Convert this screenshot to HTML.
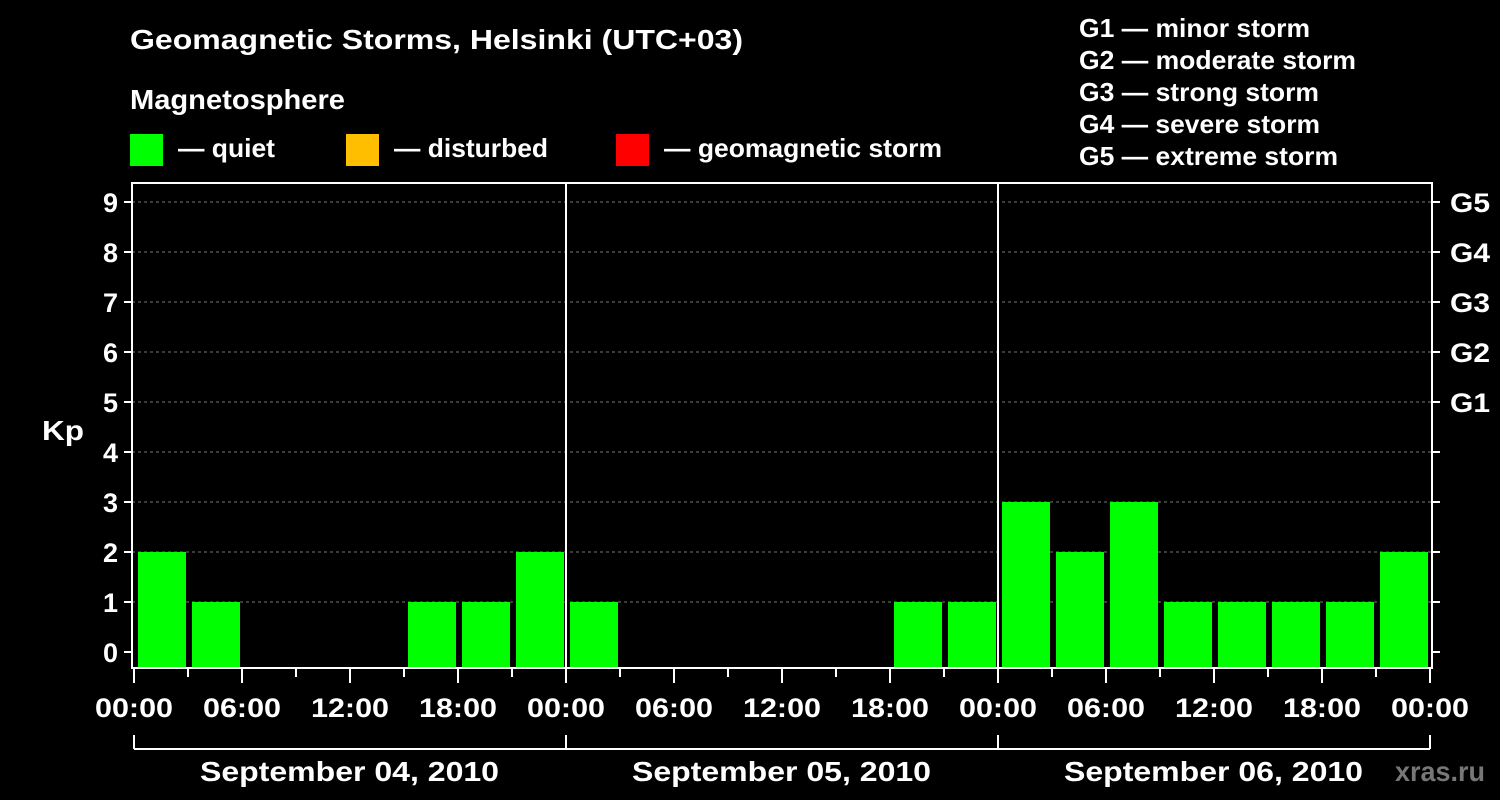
<!DOCTYPE html>
<html><head><meta charset="utf-8"><style>
body{margin:0;background:#000;}
svg{display:block;font-family:"Liberation Sans",sans-serif;font-weight:bold;fill:#fff;}
</style></head><body>
<svg id="c" width="1500" height="800">
<text x="130" y="49" font-size="28" textLength="613" lengthAdjust="spacingAndGlyphs">Geomagnetic Storms, Helsinki (UTC+03)</text>
<text x="130" y="109" font-size="28" textLength="215" lengthAdjust="spacingAndGlyphs">Magnetosphere</text>
<g><rect x="130" y="134" width="33" height="32" fill="#00ff00"/><text x="178" y="157" font-size="26" textLength="97" lengthAdjust="spacingAndGlyphs">— quiet</text></g>
<g><rect x="346" y="134" width="33" height="32" fill="#ffbf00"/><text x="394" y="157" font-size="26" textLength="154" lengthAdjust="spacingAndGlyphs">— disturbed</text></g>
<g><rect x="616" y="134" width="33" height="32" fill="#ff0000"/><text x="664" y="157" font-size="26" textLength="278" lengthAdjust="spacingAndGlyphs">— geomagnetic storm</text></g>
<g font-size="26">
<text x="1079" y="37" textLength="231" lengthAdjust="spacingAndGlyphs">G1 — minor storm</text>
<text x="1079" y="69" textLength="277" lengthAdjust="spacingAndGlyphs">G2 — moderate storm</text>
<text x="1079" y="101" textLength="240" lengthAdjust="spacingAndGlyphs">G3 — strong storm</text>
<text x="1079" y="133" textLength="241" lengthAdjust="spacingAndGlyphs">G4 — severe storm</text>
<text x="1079" y="165" textLength="259" lengthAdjust="spacingAndGlyphs">G5 — extreme storm</text>
</g>
<text x="42" y="440" font-size="28" textLength="42" lengthAdjust="spacingAndGlyphs">Kp</text>
<text x="1395" y="781" font-size="28" textLength="90" lengthAdjust="spacingAndGlyphs" style="fill:#777">xras.ru</text>
<g id="g"></g>
</svg>
<script>
const days=["September 04, 2010","September 05, 2010","September 06, 2010"];
const kp=[2,1,0,0,0,1,1,2, 1,0,0,0,0,0,1,1, 3,2,3,1,1,1,1,2];
const yTicks=[0,1,2,3,4,5,6,7,8,9];
const gLabels=["G1","G2","G3","G4","G5"];
const xLabels=["00:00","06:00","12:00","18:00"];
const NS="http://www.w3.org/2000/svg";
const g=document.getElementById('g');
const X0=134,DW=432,L=132,R=1432,T=183,B=668;
const x=h=>X0+h*DW/24;
const y=v=>652-50*v;
function el(t,a,p){const e=document.createElementNS(NS,t);for(const k in a)e.setAttribute(k,a[k]);(p||g).appendChild(e);return e;}
yTicks.forEach(v=>{
  if(v>0){const l=el('line',{x1:L,x2:R,y1:y(v),y2:y(v),stroke:'#777','stroke-dasharray':'3,3'});
  
  }
  el('line',{x1:L-8,x2:L,y1:y(v),y2:y(v),stroke:'#fff','stroke-width':2});
  el('line',{x1:R,x2:R+8,y1:y(v),y2:y(v),stroke:'#fff','stroke-width':2});
  const t=el('text',{x:L-14,y:y(v)+10,'font-size':27,'text-anchor':'end'});t.textContent=v;
  
  
});
gLabels.forEach((s,i)=>{const t=el('text',{x:1450,y:y(5+i)+10,'font-size':27,textLength:40,lengthAdjust:'spacingAndGlyphs'});t.textContent=s;
  
  });
kp.forEach((v,i)=>{
  if(v<=0)return;
  const r=el('rect',{x:x(i*3)+4,y:y(v),width:48,height:B-y(v),fill:'#00ff00'});
  
  
});
el('rect',{x:L,y:T,width:R-L,height:B-T,fill:'none',stroke:'#fff','stroke-width':2});
for(let d=1;d<days.length;d++)el('line',{x1:x(d*24),x2:x(d*24),y1:T,y2:B,stroke:'#fff','stroke-width':2});
for(let h=0;h<=72;h+=3){
  const maj=h%6==0;
  el('line',{x1:x(h),x2:x(h),y1:B,y2:B+(maj?15:9),stroke:'#fff','stroke-width':2});
  if(maj){const t=el('text',{x:x(h)-39,y:717,'font-size':27,textLength:78,lengthAdjust:'spacingAndGlyphs'});t.textContent=xLabels[(h/6)%4];
  
  }
}
el('line',{x1:x(0),x2:x(72),y1:749,y2:749,stroke:'#fff','stroke-width':2});
days.forEach((d,i)=>{
  el('line',{x1:x(i*24),x2:x(i*24),y1:735,y2:749,stroke:'#fff','stroke-width':2});
  const t=el('text',{x:x(i*24+12)-150,y:781,'font-size':28,textLength:299,lengthAdjust:'spacingAndGlyphs'});t.textContent=d;
  
  
});
el('line',{x1:x(72),x2:x(72),y1:735,y2:749,stroke:'#fff','stroke-width':2});
</script>
</body></html>
